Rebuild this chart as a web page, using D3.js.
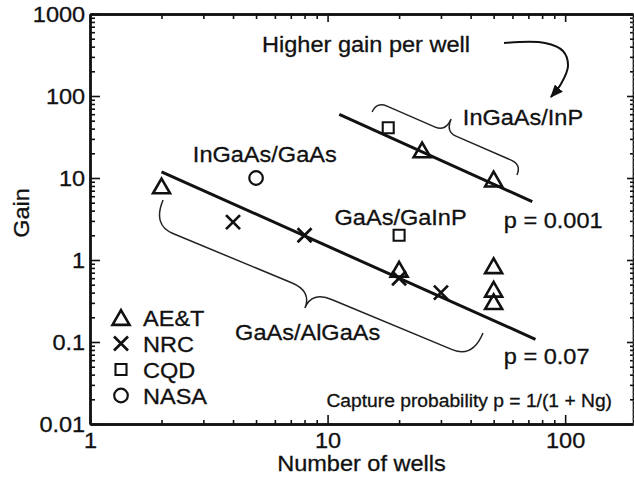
<!DOCTYPE html>
<html>
<head>
<meta charset="utf-8">
<script src="https://cdn.jsdelivr.net/npm/d3@7"></script>
<style>
  html, body { margin: 0; padding: 0; background: #fff; }
  svg { display: block; font-family: "Liberation Sans", Arial, Helvetica, sans-serif; }
</style>
</head>
<body>
<svg id="chart" width="634" height="481"></svg>
<script>
// Photoconductive gain versus number of quantum wells (log-log)

const wellTicks = [1, 10, 100];
const wellTickLabels = ["1", "10", "100"];
const gainTicks = [0.01, 0.1, 1, 10, 100, 1000];
const gainTickLabels = ["0.01", "0.1", "1", "10", "100", "1000"];
const wellMax = 193;

const seriesNames = ["AE&T", "NRC", "CQD", "NASA"];
const aetWells = [2, 25, 50, 20, 50, 50, 50];
const aetGain  = [8, 22, 9.7, 0.77, 0.85, 0.44, 0.31];
const nrcWells = [4, 8, 20, 30];
const nrcGain  = [2.9, 2, 0.6, 0.4];
const cqdWells = [18, 20];
const cqdGain  = [41, 2];
const nasaWells = [5];
const nasaGain  = [10];

// capture-probability fit lines
const fitAlGaAsWells = [2, 75];
const fitAlGaAsGain  = [11.9, 0.108];
const fitInPWells = [11.2, 72.7];
const fitInPGain  = [59.8, 5.14];

// grouping braces: start, tip, end
const braceAlGaAsWells = [2.03, 8.03, 45.1];
const braceAlGaAsGain  = [5.4, 0.26, 0.129];
const braceInPWells = [15.4, 33.1, 62.7];
const braceInPGain  = [63.8, 52.5, 10.9];

// curved arrow from the "higher gain" note
const arrowWells = [55.3, 82.2, 97.9, 102.8, 96.0, 87.1];
const arrowGain  = [443, 443, 354, 232, 140, 97.3];

const noteTexts = ["Higher gain per well", "InGaAs/InP", "InGaAs/GaAs", "GaAs/GaInP",
                   "p = 0.001", "GaAs/AlGaAs", "p = 0.07"];
const noteWells = [5.30, 37.1, 2.71, 10.7, 55.2, 4.08, 55.2];
const noteGain  = [344, 44.3, 15.7, 2.67, 2.45, 0.106, 0.054];
const formulaText = "Capture probability p = 1/(1 + Ng)";

const zip = (a, b) => a.map((v, i) => [v, b[i]]);

const svg = d3.select("#chart");
const x = d3.scaleLog().domain([1, wellMax]).range([90, 633]);
const y = d3.scaleLog().domain([0.01, 1000]).range([424, 14]);

const FS = 22, SX = 1.07, INK = "#111";
const isMajor = v => Math.abs(Math.log10(v) - Math.round(Math.log10(v))) < 1e-9;
const minorX = x.ticks().filter(v => !isMajor(v));
const minorY = y.ticks().filter(v => !isMajor(v));

function styleAxis(g, domainWidth) {
  g.select(".domain").attr("stroke", INK).attr("stroke-width", domainWidth);
  g.selectAll(".tick line").attr("stroke", INK).attr("stroke-width", 1.6);
  g.selectAll(".tick text").attr("fill", INK).attr("font-size", FS)
    .attr("stroke", INK).attr("stroke-width", 0.3)
    .attr("font-family", "Liberation Sans, Arial, sans-serif");
}

// bottom axis
const gb = svg.append("g").attr("transform", "translate(0,424)");
gb.append("g").call(d3.axisBottom(x).tickValues(minorX).tickFormat("").tickSizeInner(-4).tickSizeOuter(0))
  .call(g => styleAxis(g, 2.4));
gb.append("g").call(d3.axisBottom(x).tickValues(wellTicks)
    .tickFormat((d, i) => wellTickLabels[i]).tickSizeInner(-9).tickSizeOuter(0).tickPadding(8))
  .call(g => styleAxis(g, 2.4))
  .call(g => g.selectAll(".tick text").attr("transform", `scale(${SX},1)`));

// top axis
const gt = svg.append("g").attr("transform", "translate(0,14)");
gt.append("g").call(d3.axisTop(x).tickValues(minorX).tickFormat("").tickSizeInner(-5).tickSizeOuter(0))
  .call(g => styleAxis(g, 2.4));
gt.append("g").call(d3.axisTop(x).tickValues(wellTicks).tickFormat("").tickSizeInner(-8).tickSizeOuter(0))
  .call(g => styleAxis(g, 2.4));

// left axis
const gl = svg.append("g").attr("transform", "translate(90,0)");
gl.append("g").call(d3.axisLeft(y).tickValues(minorY).tickFormat("").tickSizeInner(-5).tickSizeOuter(0))
  .call(g => styleAxis(g, 2.4));
gl.append("g").call(d3.axisLeft(y).tickValues(gainTicks)
    .tickFormat((d, i) => gainTickLabels[i]).tickSizeInner(-10).tickSizeOuter(0).tickPadding(4.5))
  .call(g => styleAxis(g, 2.4))
  .call(g => g.selectAll(".tick text").attr("transform", `scale(${SX},1)`));

// right axis
const gr = svg.append("g").attr("transform", "translate(633,0)");
gr.append("g").call(d3.axisRight(y).tickValues(minorY).tickFormat("").tickSizeInner(-3).tickSizeOuter(0))
  .call(g => styleAxis(g, 1.6));
gr.append("g").call(d3.axisRight(y).tickValues(gainTicks).tickFormat("").tickSizeInner(-6).tickSizeOuter(0))
  .call(g => styleAxis(g, 1.6))
  .call(g => g.select(".domain").attr("stroke-dasharray", "2,2.5").attr("stroke", "#444"));

// stretched text helper
function label(parent, px, py, str, size, anchor, rot, sx = SX) {
  parent.append("text")
    .attr("transform", `translate(${px},${py})${rot ? ` rotate(${rot})` : ""} scale(${sx},1)`)
    .attr("text-anchor", anchor)
    .attr("font-size", size)
    .attr("fill", INK)
    .attr("stroke", INK)
    .attr("stroke-width", 0.3)
    .text(str);
}

// axis titles
label(svg, (x.range()[0] + x.range()[1]) / 2, 471, "Number of wells", FS, "middle");
label(svg, 29, 213, "Gain", FS, "middle", -90);

// fit lines
const line = d3.line().x(d => x(d[0])).y(d => y(d[1]));
[zip(fitAlGaAsWells, fitAlGaAsGain), zip(fitInPWells, fitInPGain)].forEach(pts => {
  svg.append("path").attr("d", line(pts)).attr("fill", "none")
    .attr("stroke", INK).attr("stroke-width", 3);
});

// braces
function bracePath(pA, pT, pB, armFrac) {
  const dx = pB[0] - pA[0], dy = pB[1] - pA[1];
  const len = Math.hypot(dx, dy);
  const u = [dx / len, dy / len];
  let n = [-u[1], u[0]];
  const tx = pT[0] - pA[0], ty = pT[1] - pA[1];
  let depth = tx * n[0] + ty * n[1];
  if (depth < 0) { n = [-n[0], -n[1]]; depth = -depth; }
  const s = tx * u[0] + ty * u[1];
  const a = depth * armFrac;
  const r = Math.min(a, 22);
  const P = (along, off) => [pA[0] + u[0] * along + n[0] * off, pA[1] + u[1] * along + n[1] * off];
  const p = d3.path();
  p.moveTo(pA[0], pA[1]);
  p.quadraticCurveTo(...P(0, a), ...P(r, a));
  p.lineTo(...P(s - r, a));
  p.quadraticCurveTo(...P(s, a), ...P(s, depth));
  p.quadraticCurveTo(...P(s, a), ...P(s + r, a));
  p.lineTo(...P(len - r, a));
  p.quadraticCurveTo(...P(len, a), pB[0], pB[1]);
  return p.toString();
}
[[braceAlGaAsWells, braceAlGaAsGain, 0.6], [braceInPWells, braceInPGain, 0.45]].forEach(([w, g, f]) => {
  const pts = zip(w, g).map(d => [x(d[0]), y(d[1])]);
  svg.append("path").attr("d", bracePath(pts[0], pts[1], pts[2], f))
    .attr("fill", "none").attr("stroke", "#222").attr("stroke-width", 1.5);
});

// arrow
svg.append("defs").append("marker")
  .attr("id", "head").attr("viewBox", "0 0 12 10").attr("refX", 11).attr("refY", 5)
  .attr("markerWidth", 13).attr("markerHeight", 11).attr("markerUnits", "userSpaceOnUse")
  .attr("orient", "auto")
  .append("path").attr("d", "M0,0 L12,5 L0,10 Z").attr("fill", INK);
svg.append("path")
  .attr("d", d3.line().x(d => x(d[0])).y(d => y(d[1])).curve(d3.curveCatmullRom.alpha(0.5))(zip(arrowWells, arrowGain)))
  .attr("fill", "none").attr("stroke", INK).attr("stroke-width", 2)
  .attr("marker-end", "url(#head)");

// annotation texts
noteTexts.forEach((t, i) => label(svg, x(noteWells[i]), y(noteGain[i]), t, FS, "start"));
label(svg, 612, 407, formulaText, 18, "end", 0, 1.07);

// symbols
const symbolPath = {
  "AE&T": () => { const s = 17, h = s * 0.866; return `M0,${-h / 2}L${s / 2},${h / 2}L${-s / 2},${h / 2}Z`; },
  "NRC":  () => "M-7,-7L7,7M-7,7L7,-7",
  "CQD":  () => "M-5.5,-5.5H5.5V5.5H-5.5Z"
};
function drawSymbol(parent, name, px, py) {
  if (name === "NASA") {
    parent.append("circle").attr("cx", px).attr("cy", py).attr("r", 6.8)
      .attr("fill", "none").attr("stroke", INK).attr("stroke-width", 2.2);
  } else {
    parent.append("path").attr("d", symbolPath[name]())
      .attr("transform", `translate(${px},${py})`)
      .attr("fill", "none").attr("stroke", INK)
      .attr("stroke-width", name === "NRC" ? 2.7 : (name === "CQD" ? 2.1 : 2.6))
      .attr("stroke-linejoin", "miter");
  }
}
const seriesData = [
  ["AE&T", aetWells, aetGain],
  ["NRC", nrcWells, nrcGain],
  ["CQD", cqdWells, cqdGain],
  ["NASA", nasaWells, nasaGain]
];
const gm = svg.append("g");
seriesData.forEach(([name, w, g]) => {
  zip(w, g).forEach(d => drawSymbol(gm, name, x(d[0]), y(d[1])));
});

// legend
const legend = svg.append("g").attr("transform", "translate(121,317.5)");
seriesNames.forEach((name, i) => {
  const row = legend.append("g").attr("transform", `translate(0,${i * 26})`);
  drawSymbol(row, name, 0, 0);
  label(row, 22, 8.5, name, FS, "start");
});
</script>
</body>
</html>
